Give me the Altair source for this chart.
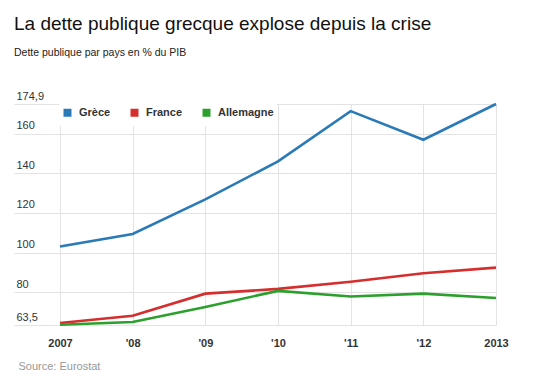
import altair as alt
import pandas as pd

years = [2007, 2008, 2009, 2010, 2011, 2012, 2013]
year_labels = ["2007", "'08", "'09", "'10", "'11", "'12", "2013"]
greece = [103.1, 109.4, 126.8, 146.0, 171.3, 156.9, 174.9]
france = [64.5, 68.2, 79.3, 81.7, 85.3, 89.6, 92.4]
germany = [63.6, 65.0, 72.6, 80.7, 77.9, 79.3, 77.1]
countries = ["Grèce", "France", "Allemagne"]
colors = ["#2a7ab8", "#d62e2e", "#2ca02c"]
y_ticks = [63.5, 80, 100, 120, 140, 160, 174.9]

rows = []
for name, vals in zip(countries, [greece, france, germany]):
    for yr, v in zip(years, vals):
        rows.append({"year": yr, "pays": name, "value": v})
df = pd.DataFrame(rows)

label_expr = "[" + ",".join('"%s"' % l for l in year_labels) + "][datum.value - 2007]"

chart = alt.Chart(df).mark_line(strokeWidth=2.6).encode(
    x=alt.X(
        "year:Q",
        scale=alt.Scale(domain=[2006.367, 2013], nice=False, zero=False),
        axis=alt.Axis(
            values=years, labelExpr=label_expr, title="Source: Eurostat",
            grid=True, gridColor="#e3e3e3", domain=False, ticks=False, tickSize=0,
            labelPadding=12, labelFontWeight="bold", labelFontSize=11,
            labelColor="#333333", labelFlush=False,
            titleAnchor="start", titleAlign="left", titleX=4, titleY=44,
            titleBaseline="alphabetic", titleFontWeight="normal",
            titleFontSize=11, titleColor="#999999",
        ),
    ),
    y=alt.Y(
        "value:Q",
        scale=alt.Scale(domain=[63.5, 174.9], nice=False, zero=False),
        axis=alt.Axis(
            values=y_ticks,
            labelExpr="replace(format(datum.value, '~f'), '.', ',')",
            title=None, grid=True, gridColor="#e3e3e3", domain=False,
            ticks=False, tickSize=0, labelAlign="left", labelPadding=-2,
            labelBaseline="alphabetic", labelOffset=-5, labelFontSize=11,
            labelColor="#333333",
        ),
    ),
    color=alt.Color(
        "pays:N",
        scale=alt.Scale(domain=countries, range=colors),
        sort=countries,
        legend=alt.Legend(
            title=None, orient="none", legendX=45, legendY=0,
            direction="horizontal", symbolType="square", symbolSize=16,
            symbolStrokeWidth=4, labelFontWeight="bold", labelFontSize=11,
            labelColor="#333333", labelOffset=6, columnPadding=13,
            fillColor="white", padding=3,
        ),
    ),
).properties(
    width=482,
    height=221,
    padding={"left": 6, "top": 96, "right": 42, "bottom": 53},
    autosize=alt.AutoSizeParams(type="none"),
    title=alt.TitleParams(
        text="La dette publique grecque explose depuis la crise",
        subtitle="Dette publique par pays en % du PIB",
        anchor="start", frame="group", fontSize=19, fontWeight="normal",
        color="#111111", subtitleFontSize=10.5, subtitleColor="#222222",
        subtitlePadding=14, offset=32,
    ),
).configure(font="Liberation Sans").configure_view(stroke=None)

chart.save("out.html", embed_options={"renderer": "svg", "actions": False})
